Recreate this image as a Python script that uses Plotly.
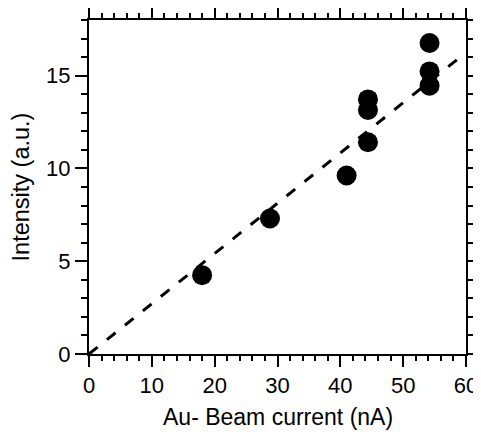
import plotly.graph_objects as go

# Data
beam_current = [18.0, 28.8, 41.0, 44.4, 44.4, 44.4, 54.2, 54.2, 54.2]
intensity = [4.25, 7.3, 9.62, 11.41, 13.15, 13.72, 14.46, 15.23, 16.76]

fit_x = [0, 60]
fit_y = [0, 16.25]

x_tickvals = [0, 10, 20, 30, 40, 50, 60]
y_tickvals = [0, 5, 10, 15]

x_title = "Au- Beam current (nA)"
y_title = "Intensity (a.u.)"

FONT = "Arial, Liberation Sans, sans-serif"

fig = go.Figure()
fig.add_trace(go.Scatter(
    x=fit_x, y=fit_y, mode="lines",
    line=dict(color="black", width=3, dash="11px,12px"),
    showlegend=False, hoverinfo="skip"))
fig.add_trace(go.Scatter(
    x=beam_current, y=intensity, mode="markers",
    marker=dict(color="black", size=20, line=dict(width=0)),
    showlegend=False))

axis_common = dict(
    showgrid=False, zeroline=False, showline=True, linecolor="black", linewidth=2,
    ticks="outside", tickcolor="black", tickwidth=1.5, mirror="ticks",
    tickfont=dict(family=FONT, size=22, color="black"), automargin=False,
)

fig.update_xaxes(
    range=[0, 60], tickvals=x_tickvals, ticklen=11,
    minor=dict(dtick=2, ticks="outside", ticklen=5, tickwidth=1.5, tickcolor="black"),
    **axis_common)
fig.update_yaxes(
    range=[0, 18], tickvals=y_tickvals, ticklen=12,
    minor=dict(dtick=1, ticks="outside", ticklen=6, tickwidth=1.5, tickcolor="black"),
    title=dict(text=y_title, font=dict(family=FONT, size=23.5, color="black")),
    **axis_common)

fig.add_annotation(
    text=x_title, xref="paper", yref="paper", x=0.5, y=0,
    xanchor="center", yanchor="top", yshift=-48, showarrow=False,
    font=dict(family=FONT, size=23, color="black"))

fig.update_layout(
    width=481, height=432,
    margin=dict(l=81, r=23, t=12, b=86),
    plot_bgcolor="white", paper_bgcolor="white",
    font=dict(family=FONT, color="black"),
)

fig.write_html("out.html")
